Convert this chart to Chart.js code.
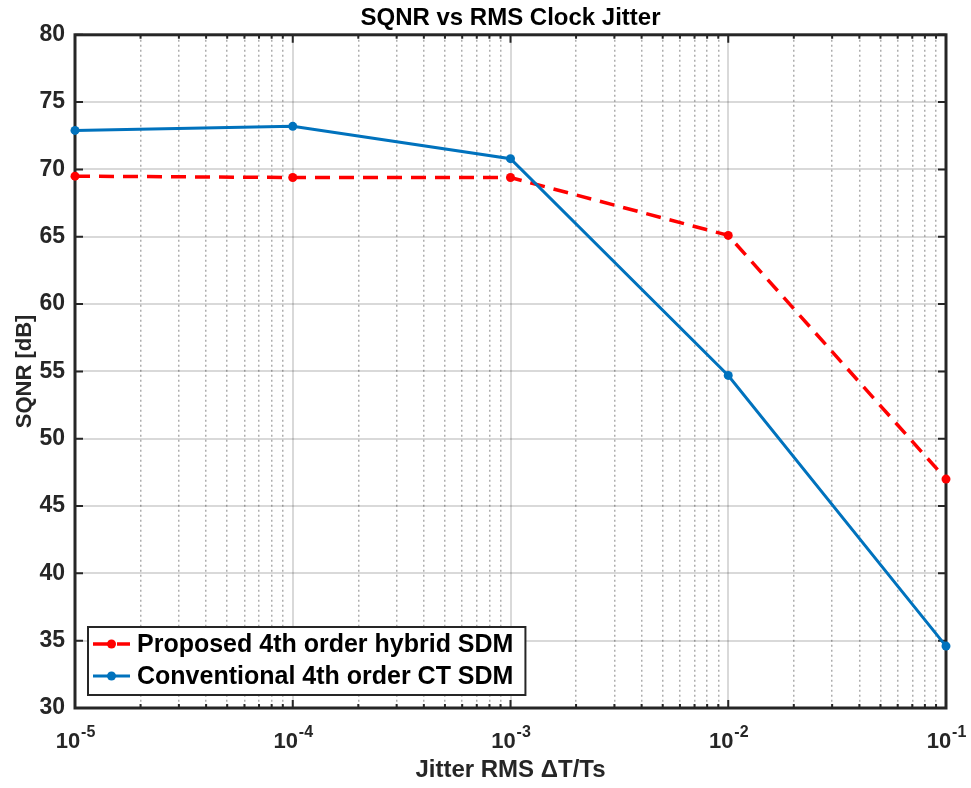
<!DOCTYPE html>
<html lang="en">
  <head>
    <meta charset="UTF-8" />
    <title>SQNR vs RMS Clock Jitter</title>
    <script src="https://cdn.jsdelivr.net/npm/chart.js@4/dist/chart.umd.min.js"></script>
    <style>
      html, body { margin: 0; padding: 0; background: #fff; }
    </style>
  </head>
  <body>
    <canvas id="sqnrChart" width="971" height="788"></canvas>

    <script>
      // data
      const jitterRms = [1e-5, 1e-4, 1e-3, 1e-2, 1e-1];
      const sqnrProposed = [69.5, 69.4, 69.4, 65.1, 47.0];
      const sqnrConventional = [72.9, 73.2, 70.8, 54.7, 34.6];

      const decadeTicks = [1e-5, 1e-4, 1e-3, 1e-2, 1e-1];
      const decadeExponents = ["-5", "-4", "-3", "-2", "-1"];
      const minorSteps = [2, 3, 4, 5, 6, 7, 8, 9];

      const FONT = "'Liberation Sans', Arial, Helvetica, sans-serif";
      const axisColor = "#262626";
      const majorGrid = "rgba(0,0,0,0.15)";
      const minorGrid = "rgba(0,0,0,0.32)";

      const xTickList = [];
      decadeTicks.forEach((d, i) => {
        xTickList.push({ value: d, major: true });
        if (i < decadeTicks.length - 1) {
          minorSteps.forEach(m => xTickList.push({ value: +(m * d).toPrecision(3), major: false }));
        }
      });

      // box, inward tick marks and x tick labels (10 with superscript)
      const matlabAxes = {
        id: "matlabAxes",
        beforeDatasetsDraw(chart) {
          const ctx = chart.ctx;
          const a = chart.chartArea;
          const x = chart.scales.x;
          const y = chart.scales.y;
          ctx.save();
          ctx.strokeStyle = axisColor;
          ctx.lineWidth = 2;
          xTickList.forEach(t => {
            const px = x.getPixelForValue(t.value);
            const len = t.major ? 8 : 4;
            ctx.beginPath();
            ctx.moveTo(px, a.bottom); ctx.lineTo(px, a.bottom - len);
            ctx.moveTo(px, a.top); ctx.lineTo(px, a.top + len);
            ctx.stroke();
          });
          y.ticks.forEach(t => {
            const py = y.getPixelForValue(t.value);
            ctx.beginPath();
            ctx.moveTo(a.left, py); ctx.lineTo(a.left + 8, py);
            ctx.moveTo(a.right, py); ctx.lineTo(a.right - 8, py);
            ctx.stroke();
          });
          ctx.lineWidth = 3;
          ctx.strokeRect(a.left, a.top, a.right - a.left, a.bottom - a.top);
          ctx.restore();
        },
        afterDraw(chart) {
          const ctx = chart.ctx;
          const a = chart.chartArea;
          const x = chart.scales.x;
          ctx.save();
          ctx.fillStyle = axisColor;
          ctx.textBaseline = "alphabetic";
          ctx.textAlign = "left";
          decadeTicks.forEach((v, i) => {
            const px = x.getPixelForValue(v);
            ctx.font = "bold 22px " + FONT;
            const w1 = ctx.measureText("10").width;
            ctx.font = "bold 16px " + FONT;
            const w2 = ctx.measureText(decadeExponents[i]).width;
            const left = px - (w1 + w2) / 2;
            ctx.font = "bold 22px " + FONT;
            ctx.fillText("10", left, a.bottom + 40);
            ctx.font = "bold 16px " + FONT;
            ctx.fillText(decadeExponents[i], left + w1 + 1, a.bottom + 29);
          });

          // legend, lower left inside the axes
          const sets = chart.data.datasets;
          ctx.font = "bold 25px " + FONT;
          const textW = Math.max(...sets.map(s => ctx.measureText(s.label).width));
          const bx = a.left + 13, by = a.bottom - 81;
          const bw = 49 + textW + 12, bh = 68;
          ctx.fillStyle = "#fff";
          ctx.fillRect(bx, by, bw, bh);
          ctx.strokeStyle = axisColor;
          ctx.lineWidth = 2;
          ctx.strokeRect(bx, by, bw, bh);
          sets.forEach((s, i) => {
            const ry = by + 17 + i * 32;
            ctx.save();
            ctx.strokeStyle = s.borderColor;
            ctx.lineWidth = s.borderWidth;
            ctx.setLineDash(s.borderDash || []);
            ctx.beginPath();
            ctx.moveTo(bx + 5, ry); ctx.lineTo(bx + 42, ry);
            ctx.stroke();
            ctx.fillStyle = s.pointBackgroundColor;
            ctx.beginPath();
            ctx.arc(bx + 23.5, ry, s.pointRadius, 0, Math.PI * 2);
            ctx.fill();
            ctx.restore();
            ctx.fillStyle = "#000";
            ctx.textBaseline = "middle";
            ctx.fillText(s.label, bx + 49, ry + 1);
          });
          ctx.restore();
        }
      };

      const ctx = document.getElementById("sqnrChart").getContext("2d");
      const chart = new Chart(ctx, {
        type: "line",
        data: {
          datasets: [
            {
              label: "Proposed 4th order hybrid SDM",
              data: jitterRms.map((j, i) => ({ x: j, y: sqnrProposed[i] })),
              borderColor: "#FF0000",
              backgroundColor: "#FF0000",
              pointBackgroundColor: "#FF0000",
              pointBorderColor: "#FF0000",
              borderWidth: 3.5,
              borderDash: [15, 9],
              pointRadius: 4.5,
              pointBorderWidth: 0,
              fill: false,
              tension: 0,
              clip: false,
              order: 1
            },
            {
              label: "Conventional 4th order CT SDM",
              data: jitterRms.map((j, i) => ({ x: j, y: sqnrConventional[i] })),
              borderColor: "#0072BD",
              backgroundColor: "#0072BD",
              pointBackgroundColor: "#0072BD",
              pointBorderColor: "#0072BD",
              borderWidth: 3,
              pointRadius: 4.5,
              pointBorderWidth: 0,
              fill: false,
              tension: 0,
              clip: false,
              order: 0
            }
          ]
        },
        options: {
          responsive: false,
          animation: false,
          layout: { padding: { left: 0, right: 25, top: 0, bottom: 0 } },
          plugins: {
            legend: { display: false },
            tooltip: { enabled: false },
            title: {
              display: true,
              text: "SQNR vs RMS Clock Jitter",
              fullSize: false,
              color: "#000",
              font: { family: FONT, size: 24, weight: "bold" },
              padding: { top: 4, bottom: 2 }
            }
          },
          scales: {
            x: {
              type: "logarithmic",
              min: 1e-5,
              max: 1e-1,
              afterBuildTicks: scale => {
                scale.ticks = xTickList.map(t => ({ value: t.value, major: t.major }));
              },
              afterFit: scale => { scale.height = 80; },
              ticks: { display: false, autoSkip: false },
              grid: {
                drawTicks: false,
                color: c => (c.tick && c.tick.major ? majorGrid : minorGrid),
                lineWidth: c => (c.tick && c.tick.major ? 2 : 1.5)
              },
              border: {
                display: false,
                dash: c => (c.tick && c.tick.major ? [] : [2, 3])
              },
              title: {
                display: true,
                text: "Jitter RMS \u0394T/Ts",
                color: axisColor,
                font: { family: FONT, size: 24, weight: "bold" },
                padding: { top: 0, bottom: 3 }
              }
            },
            y: {
              min: 30,
              max: 80,
              afterFit: scale => { scale.width = 75; },
              ticks: {
                stepSize: 5,
                padding: 10,
                color: axisColor,
                font: { family: FONT, size: 23, weight: "bold" }
              },
              grid: { drawTicks: false, color: majorGrid, lineWidth: 2 },
              border: { display: false },
              title: {
                display: true,
                text: "SQNR [dB]",
                color: axisColor,
                font: { family: FONT, size: 22, weight: "bold" },
                padding: { top: 12, bottom: 0 }
              }
            }
          }
        },
        plugins: [matlabAxes]
      });
    </script>
  </body>
</html>
